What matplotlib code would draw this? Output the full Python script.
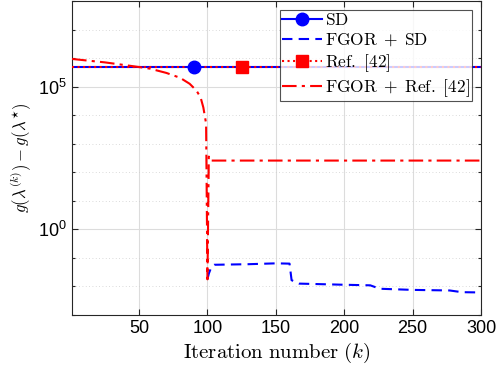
import numpy as np
import matplotlib
matplotlib.use('Agg')
import matplotlib.pyplot as plt
from matplotlib.ticker import FixedLocator, NullFormatter, FixedFormatter
from matplotlib.lines import Line2D

plt.rcParams['font.family'] = 'Liberation Sans'
plt.rcParams['mathtext.fontset'] = 'custom'
plt.rcParams['mathtext.rm'] = 'Liberation Sans'
plt.rcParams['mathtext.it'] = 'Liberation Sans:italic'

# Values (log10 of the gap g(lambda^k) - g(lambda*))
sd_k = [1, 300]
sd_log = [5.70, 5.70]

ref_k = [1, 300]
ref_log = [5.70, 5.70]

# FGOR + SD sits under the SD line until k = 100
fgor_sd_k = [100, 101, 103, 105, 130, 150, 160, 161.5, 167, 200, 219, 226, 250, 277, 286, 300]
fgor_sd_log = [-1.75, -1.55, -1.30, -1.24, -1.22, -1.19, -1.20, -1.78, -1.90, -1.94, -1.96,
               -2.08, -2.12, -2.14, -2.20, -2.21]

fgor_ref_k = [1, 25, 48, 58, 70, 80, 87, 92, 95, 97, 99, 100, 101, 102, 300]
fgor_ref_log = [5.97, 5.85, 5.70, 5.63, 5.48, 5.31, 5.10, 4.86, 4.62, 4.27, 3.71, -1.75, 2.55, 2.41, 2.41]

sd_marker_k = [90]
ref_marker_k = [125]

legend = [r'$\mathrm{SD}$', r'$\mathrm{FGOR}\;+\;\mathrm{SD}$', r'$\mathrm{Ref.\ [42]}$',
          r'$\mathrm{FGOR}\;+\;\mathrm{Ref.\ [42]}$']

fig = plt.figure(figsize=(4.98, 3.69), dpi=100)
ax = fig.add_axes([0.1446, 0.1463, 0.8214, 0.8510])

DASH = (5, 3)
DASHDOT = (7, 2.5, 1.5, 2.5)

ax.plot(sd_k, 10 ** np.array(sd_log), '-', color='blue', lw=1.5, zorder=3)
ax.plot(fgor_sd_k, 10 ** np.array(fgor_sd_log), '--', color='blue', lw=1.5,
        dashes=DASH, zorder=3)
ax.plot(ref_k, 10 ** np.array(ref_log), ':', color='red', lw=1.5, zorder=4)
ax.plot(fgor_ref_k, 10 ** np.array(fgor_ref_log), '-.', color='red', lw=1.5,
        dashes=DASHDOT, zorder=5)
ax.plot(sd_marker_k, [10 ** sd_log[0]], 'o', color='blue', markersize=9, zorder=6)
ax.plot(ref_marker_k, [10 ** ref_log[0]], 's', color='red', markersize=8, zorder=6)

ax.set_yscale('log')
ax.set_xlim(1, 300)
ax.set_ylim(1e-3, 1e8)
ax.set_xticks([50, 100, 150, 200, 250, 300])
ax.yaxis.set_major_locator(FixedLocator([1e0, 1e5]))
ax.yaxis.set_major_formatter(FixedFormatter(['$10^{0}$', '$10^{5}$']))
ax.yaxis.set_minor_locator(FixedLocator([10.0 ** e for e in range(-3, 9)]))
ax.yaxis.set_minor_formatter(NullFormatter())
ax.tick_params(direction='in', which='both', top=True, right=True, labelsize=13,
               length=4, width=0.8, color='#262626')
ax.tick_params(which='minor', length=2.5)
ax.grid(True, which='major', color='#dcdcdc', lw=0.8)
ax.grid(True, which='minor', axis='y', color='#cfcfcf', lw=0.6, linestyle=(0, (1, 3)))
ax.set_axisbelow(True)
for s in ax.spines.values():
    s.set_color('#262626')
    s.set_linewidth(0.8)

ax.set_xlabel(r'$\mathrm{Iteration\ number}\ (k)$', fontsize=15, math_fontfamily='cm', labelpad=3)
ax.set_ylabel(r'$g(\lambda^{(k)}) - g(\lambda^{\star})$', fontsize=12, math_fontfamily='cm', labelpad=4)

handles = [
    Line2D([], [], color='blue', lw=1.5, marker='o', markersize=9),
    Line2D([], [], color='blue', lw=1.5, linestyle='--', dashes=DASH),
    Line2D([], [], color='red', lw=1.5, linestyle=':', marker='s', markersize=8),
    Line2D([], [], color='red', lw=1.5, linestyle='-.', dashes=DASHDOT),
]
leg = ax.legend(handles, legend, loc='upper right', fontsize=12.5, frameon=True, fancybox=False,
                edgecolor='#262626', borderpad=0.15, labelspacing=0.2, handlelength=2.3,
                handletextpad=0.15, borderaxespad=0.5)
leg.get_frame().set_linewidth(0.8)
for t in leg.get_texts():
    t.set_math_fontfamily('cm')

fig.savefig('out.png', dpi=100)
